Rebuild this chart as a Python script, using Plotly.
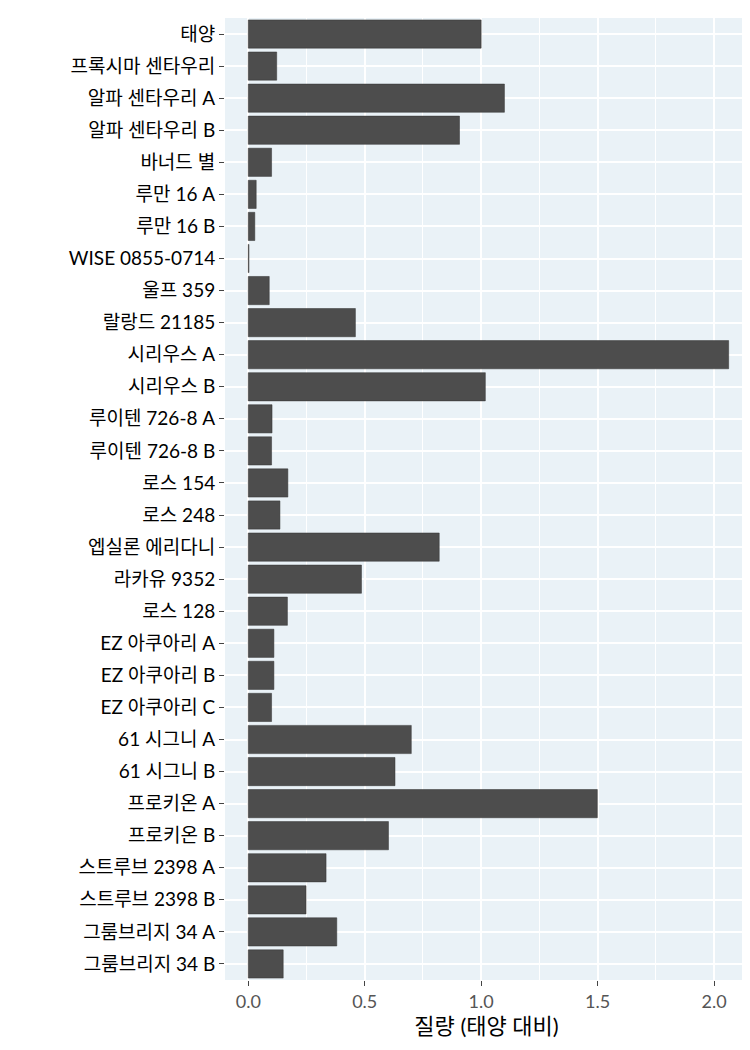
import plotly.graph_objects as go

stars = ["태양","프록시마 센타우리","알파 센타우리 A","알파 센타우리 B","바너드 별","루만 16 A","루만 16 B",
         "WISE 0855-0714","울프 359","랄랑드 21185","시리우스 A","시리우스 B","루이텐 726-8 A","루이텐 726-8 B",
         "로스 154","로스 248","엡실론 에리다니","라카유 9352","로스 128","EZ 아쿠아리 A","EZ 아쿠아리 B",
         "EZ 아쿠아리 C","61 시그니 A","61 시그니 B","프로키온 A","프로키온 B","스트루브 2398 A",
         "스트루브 2398 B","그룸브리지 34 A","그룸브리지 34 B"]
mass = [1.0,0.122,1.1,0.907,0.1,0.034,0.028,0.003,0.09,0.46,2.063,1.018,0.102,0.1,0.17,0.136,0.82,0.486,
        0.168,0.11,0.11,0.1,0.7,0.63,1.499,0.602,0.334,0.248,0.38,0.15]

fig = go.Figure(go.Bar(y=stars, x=mass, orientation="h", width=0.88,
                       marker=dict(color="#4d4d4d", line=dict(color="#333333", width=0.5))))
fig.update_layout(
    width=750, height=1050, margin=dict(l=217, r=10, t=10, b=78),
    paper_bgcolor="white", plot_bgcolor="#EAF2F7",
    font=dict(family="Lato, Noto Sans CJK KR, sans-serif", size=19, color="black"),
    showlegend=False,
)
fig.update_xaxes(range=[-0.1, 2.146], tickvals=[0,0.5,1,1.5,2], ticktext=["0.0","0.5","1.0","1.5","2.0"],
                 gridcolor="white", gridwidth=2, zeroline=False, automargin=False,
                 minor=dict(tickvals=[0.25,0.75,1.25,1.75], gridcolor="white", gridwidth=1),
                 ticks="outside", ticklen=5, tickcolor="#444", tickfont=dict(color="#555", size=18),
                 title=dict(text="질량 (태양 대비)", font=dict(size=22), standoff=6))
fig.update_yaxes(autorange="reversed", showgrid=True, gridcolor="white", gridwidth=2, automargin=False,
                 ticks="outside", ticklen=5, tickcolor="#444", tickfont=dict(size=19, color="black"))
fig.write_html("out.html")
